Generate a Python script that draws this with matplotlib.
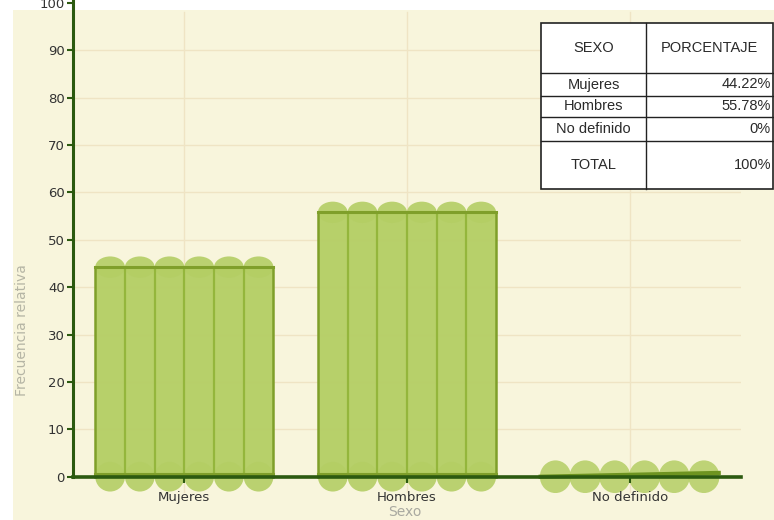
import matplotlib
matplotlib.use("Agg")
import matplotlib.pyplot as plt
from matplotlib.patches import Rectangle, Ellipse

categories = ["Mujeres", "Hombres", "No definido"]
values = [44.22, 55.78, 0.0]
table_header = ["SEXO", "PORCENTAJE"]
table_rows = ["Mujeres", "Hombres", "No definido", "TOTAL"]
table_pcts = ["44.22%", "55.78%", "0%", "100%"]
yticks = list(range(0, 101, 10))

W, H = 774, 520
fig = plt.figure(figsize=(W / 100, H / 100), dpi=100)
fig.patch.set_facecolor("white")
bg = "#f8f5dc"
bax = fig.add_axes([13 / W, 0, 1 - 13 / W, 1 - 10 / H], zorder=-10)
bax.set_facecolor(bg)
bax.axis("off")
bax.add_patch(Rectangle((0, 0), 1, 1, transform=bax.transAxes, facecolor=bg,
                        edgecolor="none"))

ymin, ymax = -3.5, 101
bottom_px, top_px = 493.3, -2
ax = fig.add_axes([73 / W, 1 - bottom_px / H, (741 - 73) / W, (bottom_px - top_px) / H],
                  zorder=1)
ax.patch.set_visible(False)
ax.set_xlim(-0.5, 2.5)
ax.set_ylim(ymin, ymax)
ax.set_axisbelow(False)

grid_c = "#efe4c4"
for t in yticks[:-1]:
    ax.axhline(t, color=grid_c, lw=1, zorder=0)
for i in range(len(categories)):
    ax.plot([i, i], [ymin, 98], color=grid_c, lw=1, zorder=0)

fill = "#b4ce64"
edge = "#7f9f2a"
div = "#94b63c"
nstrip = 6
bw = 0.8
sw = bw / nstrip
px_per_x = (741 - 73) / 3.0
px_per_y = (bottom_px - top_px) / (ymax - ymin)
cap_h_units = sw * px_per_x / px_per_y  # circular in pixels

for i, v in enumerate(values):
    x0 = i - bw / 2
    for k in range(nstrip):
        xs = x0 + k * sw
        xc = xs + sw / 2
        if v > 0:
            ax.add_patch(Rectangle((xs, 0), sw, v, facecolor=fill, edgecolor="none",
                                   alpha=0.95, zorder=2))
            ax.add_patch(Ellipse((xc, v), sw, cap_h_units * 0.72, facecolor=fill,
                                 edgecolor="none", alpha=0.9, zorder=2))
            ax.add_patch(Ellipse((xc, 0), sw, cap_h_units, facecolor=fill,
                                 edgecolor="none", alpha=0.9, zorder=2))
            if k > 0:
                ax.plot([xs, xs], [0, v], color=div, lw=1.6, zorder=2.2)
        else:
            ax.add_patch(Ellipse((xc, v), sw * 1.05, cap_h_units * 1.1, facecolor=fill,
                                 edgecolor="none", alpha=0.85, zorder=2))
    if v > 0:
        ax.plot([x0, x0 + bw], [v, v], color=edge, lw=2.2, zorder=2.3)
        ax.plot([x0, x0], [0, v], color=edge, lw=1.8, zorder=2.3)
        ax.plot([x0 + bw, x0 + bw], [0, v], color=edge, lw=1.8, zorder=2.3)
        ax.plot([x0, x0 + bw], [0.6, 0.6], color=edge, lw=2.2, zorder=2.3)
    else:
        ax.plot([x0, x0 + bw], [v, v + 0.8], color="#6e9420", lw=3, zorder=2.3)

axis_c = "#2c5a10"
for s in ["top", "right"]:
    ax.spines[s].set_visible(False)
ax.spines["left"].set_color(axis_c)
ax.spines["left"].set_linewidth(2.2)
ax.spines["left"].set_bounds(0, ymax)
ax.spines["bottom"].set_color(axis_c)
ax.spines["bottom"].set_linewidth(2.6)
ax.spines["bottom"].set_position(("data", 0))
ax.spines["bottom"].set_zorder(5)

ax.set_yticks(yticks)
ax.set_yticklabels([str(t) for t in yticks])
ax.set_xticks(range(len(categories)))
ax.set_xticklabels(categories)
ax.tick_params(axis="y", colors=axis_c, length=4, width=1.5, labelcolor="#333333",
               labelsize=9.5, pad=2)
ax.tick_params(axis="x", colors=axis_c, length=4, width=1.5, labelcolor="#333333",
               labelsize=9.5, pad=6)

fig.text(22 / W, 1 - 330 / H, "Frecuencia relativa", rotation=90, ha="center",
         va="center", color="#b5b5a5", fontsize=10)
fig.text(405 / W, 1 - 512 / H, "Sexo", ha="center", va="center", color="#a9a9a0",
         fontsize=10)

# Table
tl, tr, tt, tb = 541, 773, 23, 189
colx = 646
row_lines = [tt, 73, 96, 117, 141, tb]
tax = fig.add_axes([0, 0, 1, 1], facecolor="none", zorder=5)
tax.set_xlim(0, W)
tax.set_ylim(H, 0)
tax.axis("off")
tax.add_patch(Rectangle((tl, tt), tr - tl, tb - tt, facecolor="white",
                        edgecolor="#222222", lw=1.2))
for y in row_lines[1:-1]:
    tax.plot([tl, tr], [y, y], color="#222222", lw=1.0)
tax.plot([colx, colx], [tt, tb], color="#222222", lw=1.0)
tfont = dict(family=["Liberation Sans", "DejaVu Sans"], fontsize=10.5, color="#2a2a2a")
yc = (row_lines[0] + row_lines[1]) / 2
tax.text((tl + colx) / 2, yc, table_header[0], ha="center", va="center", **tfont)
tax.text((colx + tr) / 2, yc, table_header[1], ha="center", va="center", **tfont)
for r, (lab, pct) in enumerate(zip(table_rows, table_pcts)):
    yc = (row_lines[r + 1] + row_lines[r + 2]) / 2
    tax.text((tl + colx) / 2, yc, lab, ha="center", va="center", **tfont)
    tax.text(tr - 2, yc, pct, ha="right", va="center", **tfont)

fig.savefig("out.png", dpi=100, facecolor=fig.get_facecolor())
